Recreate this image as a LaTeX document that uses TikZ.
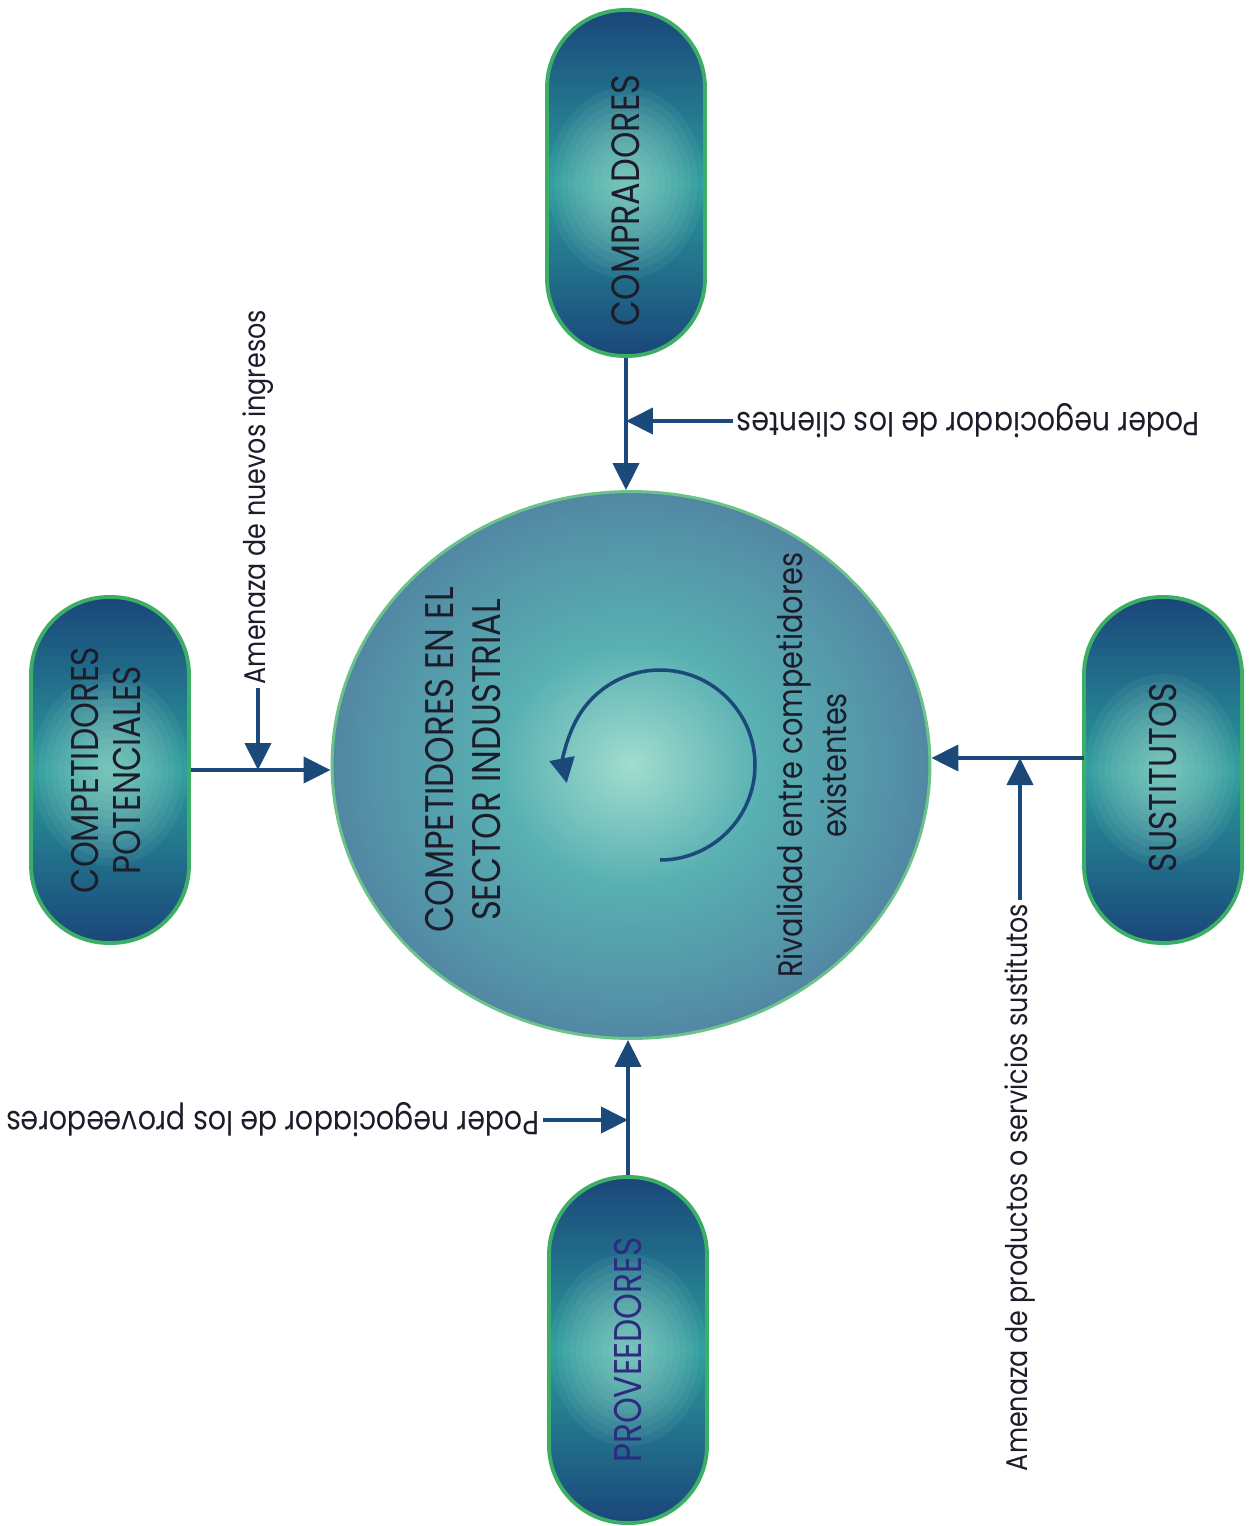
\documentclass[tikz,border=0pt]{standalone}
\usepackage{fontspec}
\setmainfont{Poppins}[FakeStretch=0.85]
\usetikzlibrary{arrows.meta,shapes.geometric}

\definecolor{fuerza}{HTML}{1B4A7A}
\definecolor{pillend}{HTML}{1A467A}
\definecolor{pillmid}{HTML}{2A9A9C}
\definecolor{glow}{HTML}{B4E8D6}
\definecolor{borde}{HTML}{3DAE66}
\definecolor{bordehub}{HTML}{6CC38A}
\definecolor{hubin}{HTML}{58B0B2}
\definecolor{hubout}{HTML}{4E6B9A}
\definecolor{letra}{HTML}{1C1C2A}
\definecolor{letraprov}{HTML}{2D2A80}

\pgfdeclareradialshading{hubshade}{\pgfpoint{0bp}{0bp}}{%
  color(0bp)=(glow!80!hubin); color(4bp)=(glow!50!hubin); color(11bp)=(hubin);
  color(22bp)=(hubin!55!hubout); color(33bp)=(hubout); color(100bp)=(hubout)}

\begin{document}
\begin{tikzpicture}[x=0.02cm, y=-0.02cm,
    pill/.style={draw=borde, line width=2.2pt, minimum width=3.16cm, minimum height=6.92cm,
      rounded corners=1.55cm, top color=pillend, bottom color=pillend, middle color=pillmid,
      text=letra, inner sep=0pt,
      path picture={\foreach \k in {1,...,12}
        \fill[glow, opacity=0.07] (path picture bounding box.center) ellipse ({\k*0.13cm} and {\k*0.16cm});}},
    hub/.style={ellipse, draw=bordehub, line width=1.7pt, shading=hubshade,
      minimum width=11.96cm, minimum height=10.94cm},
    big/.style={font=\fontsize{22.7}{27}\selectfont, align=center},
    etiqueta/.style={font=\fontsize{17}{20}\selectfont, text=letra, inner sep=2pt},
    flecha/.style={draw=fuerza, line width=2.3pt, -{Triangle[length=0.54cm, width=0.52cm]}}]

  \useasboundingbox (0,0) rectangle (1249,1526);

  % the five forces
  \node[hub] (rivales) at (631,765) {};
  \node[pill] (compradores) at (626,183) {\rotatebox{90}{\fontsize{22.5}{27}\selectfont COMPRADORES\hspace{0.7cm}}};
  \node[pill] (entrantes) at (110,770) {\rotatebox{90}{\fontsize{22}{27}\selectfont
    \begin{tabular}{@{}c@{}}COMPETIDORES\\[-3pt]POTENCIALES\end{tabular}}};
  \node[pill] (sustitutos) at (1163,770) {\rotatebox{90}{\fontsize{22}{27}\selectfont SUSTITUTOS\hspace{0.3cm}}};
  \node[pill, text=letraprov] (proveedores) at (628,1350) {\rotatebox{90}{\fontsize{22}{27}\selectfont PROVEEDORES}};

  % texts inside the circle
  \node[big, text=letra, rotate=90] (sector) at (463,760) {COMPETIDORES EN EL\\SECTOR INDUSTRIAL};
  \node[font=\fontsize{19.3}{25}\selectfont, align=center, text=letra, rotate=90] (rivalidad) at (812,765)
    {Rivalidad entre competidores\\existentes};
  \draw[flecha, line width=2pt, -{Triangle[length=0.5cm, width=0.5cm]}]
    (660,860) arc[start angle=90, end angle=-191, radius=95];

  % labels
  \node[etiqueta, font=\fontsize{19}{22}\selectfont, rotate=180, anchor=east] (clientes) at (733,421) {Poder negociador de los clientes};
  \node[etiqueta, font=\fontsize{19}{22}\selectfont, rotate=180, anchor=west] (poderprov) at (543,1120) {Poder negociador de los proveedores};
  \node[etiqueta, rotate=90, anchor=west] (nuevos) at (258,688) {Amenaza de nuevos ingresos};
  \node[etiqueta, rotate=90, anchor=east] (amenaza) at (1020,900) {Amenaza de productos o servicios sustitutos};
  \coordinate (sustin) at (1084,758);

  % connectors
  \draw[flecha] (compradores.south) -- (compradores.south |- rivales.north);
  \draw[flecha] (proveedores.north) -- (proveedores.north |- rivales.south);
  \draw[flecha] (entrantes.east) -- (entrantes.east -| rivales.west);
  \draw[flecha] (sustin) -- (sustin -| rivales.east);
  \draw[flecha] (clientes.east) -- (clientes.east -| compradores.south);
  \draw[flecha] (poderprov.west) -- (poderprov.west -| proveedores.north);
  \draw[flecha] (nuevos.west) -- (nuevos.west |- entrantes.east);
  \draw[flecha] (amenaza.east) -- (amenaza.east |- sustin);
\end{tikzpicture}
\end{document}
